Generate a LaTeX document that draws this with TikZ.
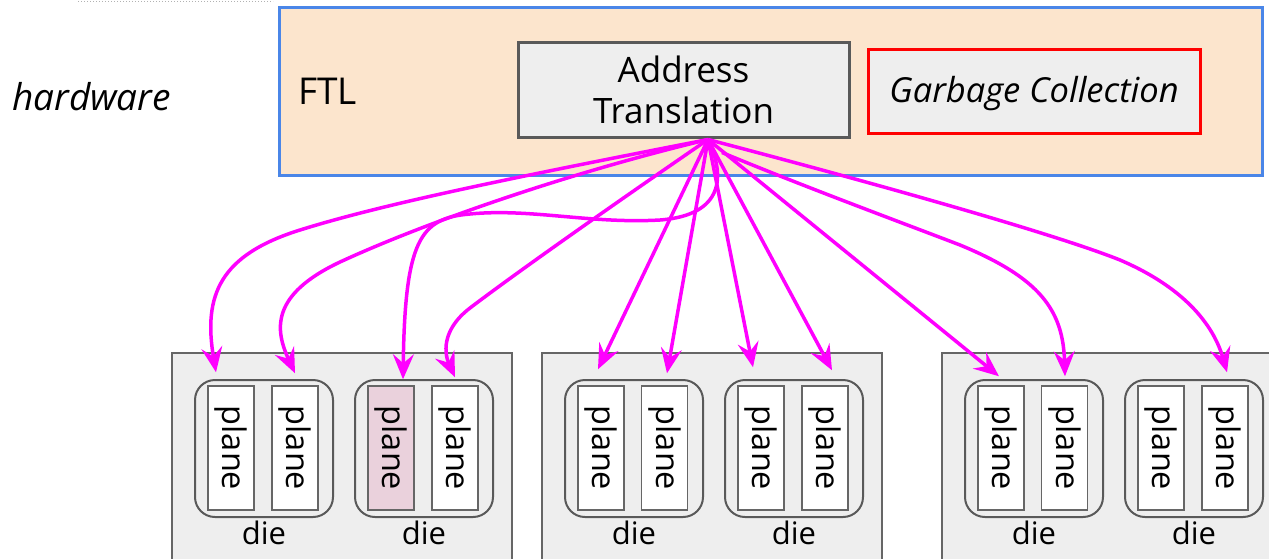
\documentclass[tikz,border=0pt]{standalone}
\usepackage{fontspec}
\usepackage{graphicx}
\setmainfont{Open Sans}
\usetikzlibrary{arrows.meta,calc}
\definecolor{ftlfill}{HTML}{FCE5CD}
\definecolor{ftlblue}{HTML}{4A86E8}
\definecolor{boxgray}{HTML}{EEEEEE}
\definecolor{darkline}{HTML}{595959}
\definecolor{chipline}{HTML}{666666}
\definecolor{pinkfill}{HTML}{EAD1DC}
\definecolor{mag}{HTML}{FF00FF}
\begin{document}
\begin{tikzpicture}[x=1pt,y=-1pt,
  bigtxt/.style={font=\fontsize{35}{41}\selectfont},
  hugetxt/.style={font=\fontsize{37}{44}\selectfont},
  gctxt/.style={font=\fontsize{34.5}{41}\selectfont},
  smalltxt/.style={font=\fontsize{31}{38}\selectfont},
  planetxt/.style={font=\fontsize{32.5}{38}\selectfont},
  chipbox/.style={fill=boxgray,draw=chipline,line width=2pt},
  diebox/.style={draw=darkline,line width=2pt,rounded corners=20pt,minimum width=138pt,minimum height=137pt,inner sep=0pt},
  planebox/.style={draw=chipline,fill=white,line width=1.5pt,minimum width=46pt,minimum height=124pt,inner sep=0pt,planetxt},
  dielabel/.style={smalltxt,inner sep=0pt},
  arr/.style={draw=mag,line width=3.5pt,-{Stealth[length=25pt,width=21pt,inset=9pt]}}
]
\useasboundingbox (0,0) rectangle (1269,558);
\clip (0,0) rectangle (1269,558);
\fill[white] (0,0) rectangle (1269,558);

% top dotted line
\draw[gray!60,dotted,line width=1pt] (78,1) -- (273,1);

% hardware label
\node[hugetxt,anchor=base west,inner sep=0pt] (hw) at (12,110) {\itshape hardware};

% FTL box
\node[fill=ftlfill,draw=ftlblue,line width=3pt,minimum width=983pt,minimum height=168pt,inner sep=0pt] (ftl) at (770.5,91) {};
\node[hugetxt,anchor=base west,inner sep=0pt] (ftltxt) at (298,104) {FTL};

% Address translation
\node[fill=boxgray,draw=darkline,line width=3pt,minimum width=331pt,minimum height=95pt,inner sep=0pt,align=center,bigtxt] (at) at (683.5,89.5) {Address\\Translation};
% Garbage collection
\node[fill=boxgray,draw=red,line width=3pt,minimum width=332pt,minimum height=84pt,inner sep=0pt,gctxt] (gc) at (1034,91) {};
\node[gctxt,inner sep=0pt] (gctext) at ($(gc.center)+(0,2.5)$) {\itshape Garbage Collection};

% chip boxes
\path[chipbox] (172,353) rectangle (512,600);
\path[chipbox] (542,353) rectangle (882,600);
\path[chipbox] (942,353) rectangle (1300,600);

% dies
\node[diebox] (d1) at (264,448.5) {};
\node[diebox] (d2) at (424,448.5) {};
\node[diebox] (d3) at (634,448.5) {};
\node[diebox] (d4) at (794,448.5) {};
\node[diebox] (d5) at (1034,448.5) {};
\node[diebox] (d6) at (1194,448.5) {};

\foreach \d in {d1,d2,d3,d4,d5,d6}{
  \node[dielabel] (\d lab) at ($(\d.south)+(0,15)$) {die};
}

% planes
\node[planebox] (p1) at (231,448) {\rotatebox{-90}{plane}};
\node[planebox] (p2) at (295,448) {\rotatebox{-90}{plane}};
\node[planebox,fill=pinkfill] (p3) at (391,448) {\rotatebox{-90}{plane}};
\node[planebox] (p4) at (455,448) {\rotatebox{-90}{plane}};
\node[planebox] (p5) at (601,448) {\rotatebox{-90}{plane}};
\node[planebox] (p6) at (664.5,448) {\rotatebox{-90}{plane}};
\node[planebox] (p7) at (761,448) {\rotatebox{-90}{plane}};
\node[planebox] (p8) at (825,448) {\rotatebox{-90}{plane}};
\node[planebox] (p9) at (1001,448) {\rotatebox{-90}{plane}};
\node[planebox] (p10) at (1064.5,448) {\rotatebox{-90}{plane}};
\node[planebox] (p11) at (1161,448) {\rotatebox{-90}{plane}};
\node[planebox] (p12) at (1225,448) {\rotatebox{-90}{plane}};

% arrow sources and tips
\coordinate (src) at ($(at.south)+(24.5,1)$);
\coordinate (src2) at ($(at.south)+(38.5,14)$);
\coordinate (t1) at ($(p1.north)+(-15,-13)$);
\coordinate (t2) at ($(p2.north)+(0,-12)$);
\coordinate (t3) at ($(p3.north)+(12,-6)$);
\coordinate (t4) at ($(p4.north)+(0,-8)$);
\coordinate (t5) at ($(p5.north)+(-3,-16)$);
\coordinate (t6) at ($(p6.north)+(2.5,-12)$);
\coordinate (t7) at ($(p7.north)+(-8,-18)$);
\coordinate (t8) at ($(p8.north)+(7,-15)$);
\coordinate (t9) at ($(p9.north)+(-2,-9)$);
\coordinate (t10) at ($(p10.north)+(0.5,-9)$);
\coordinate (t11) at ($(p12.north)+(2,-13)$);

\draw[arr] (src) .. controls (500,180) and (380,205) .. (300,230) .. controls (220,255) and (203,295) .. (t1);
\draw[arr] (src) .. controls (560,175) and (420,225) .. (340,262) .. controls (270,295) and (275,330) .. (t2);
\draw[arr] (src) .. controls (725,175) and (725,215) .. (660,220) .. controls (590,224) and (530,208) .. (470,214) .. controls (420,218) and (405,240) .. (t3);
\draw[arr] (src) .. controls (620,200) and (520,270) .. (470,308) .. controls (440,331) and (445,355) .. (t4);
\draw[arr] (src) -- (t5);
\draw[arr] (src) -- (t6);
\draw[arr] (src) -- (t7);
\draw[arr] (src) -- (t8);
\draw[arr] (src) -- (t9);
\draw[arr] (src2) .. controls (800,185) and (900,222) .. (960,245) .. controls (1040,278) and (1063,310) .. (t10);
\draw[arr] (src) .. controls (900,190) and (1060,236) .. (1120,260) .. controls (1190,290) and (1215,330) .. (t11);
\end{tikzpicture}
\end{document}
